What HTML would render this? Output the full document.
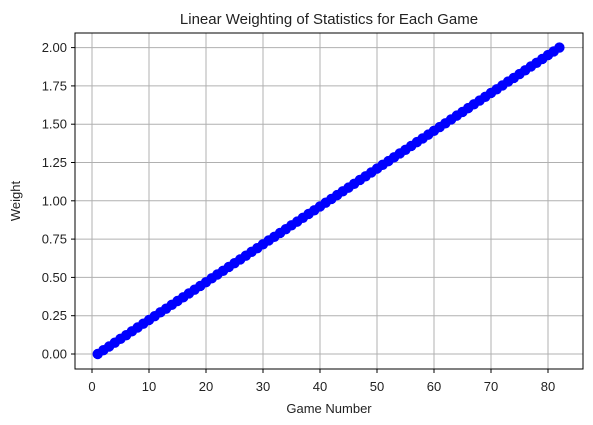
<!DOCTYPE html>
<html><head><meta charset="utf-8"><style>
body{margin:0;background:#fff;}
svg text{font-family:"Liberation Sans","DejaVu Sans",sans-serif;fill:#222;}
</style></head><body>
<svg id="chart" width="593" height="420">
<text x="329" y="24" font-size="15" text-anchor="middle">Linear Weighting of Statistics for Each Game</text>
<g id="grid"></g><g id="ticks"></g><g id="marks"></g>
<rect x="75" y="33" width="508" height="336" fill="none" stroke="#000" stroke-width="1"/>
<text x="329" y="413" font-size="13" text-anchor="middle">Game Number</text>
<text x="20" y="201" font-size="13" text-anchor="middle" transform="rotate(-90 20 201)">Weight</text>
</svg>
<script>
const weights=[0,0.025,0.049,0.074,0.099,0.123,0.148,0.173,0.198,0.222,0.247,0.272,0.296,0.321,0.346,0.370,0.395,0.420,0.444,0.469,0.494,0.519,0.543,0.568,0.593,0.617,0.642,0.667,0.691,0.716,0.741,0.765,0.790,0.815,0.840,0.864,0.889,0.914,0.938,0.963,0.988,1.012,1.037,1.062,1.086,1.111,1.136,1.160,1.185,1.210,1.235,1.259,1.284,1.309,1.333,1.358,1.383,1.407,1.432,1.457,1.481,1.506,1.531,1.556,1.580,1.605,1.630,1.654,1.679,1.704,1.728,1.753,1.778,1.802,1.827,1.852,1.877,1.901,1.926,1.951,1.975,2.0];
const games=weights.map((w,i)=>i+1);
const xTicks=[0,10,20,30,40,50,60,70,80];
const yTicks=["0.00","0.25","0.50","0.75","1.00","1.25","1.50","1.75","2.00"];
const NS="http://www.w3.org/2000/svg";
const X=v=>92+5.7*v, Y=v=>354-153.2*v;
function mk(t,a,p){const e=document.createElementNS(NS,t);for(const k in a)e.setAttribute(k,a[k]);p.appendChild(e);return e;}
const grid=document.getElementById('grid'),ticks=document.getElementById('ticks'),marks=document.getElementById('marks');
xTicks.forEach(v=>{
 const g=mk('line',{x1:X(v),x2:X(v),y1:33,y2:369,stroke:'#b0b0b0','stroke-width':1},grid);
 
 
 mk('line',{x1:X(v),x2:X(v),y1:369,y2:373,stroke:'#000'},ticks);
 const t=mk('text',{x:X(v),y:391,'font-size':13,'text-anchor':'middle'},ticks);t.textContent=v;
 
 
});
yTicks.forEach(s=>{
 const v=parseFloat(s);
 const g=mk('line',{x1:75,x2:583,y1:Y(v),y2:Y(v),stroke:'#b0b0b0','stroke-width':1},grid);
 
 
 mk('line',{x1:71,x2:75,y1:Y(v),y2:Y(v),stroke:'#000'},ticks);
 const t=mk('text',{x:67,y:Y(v)+4.5,'font-size':13,'text-anchor':'end'},ticks);t.textContent=s;
 
 
});
const line=mk('polyline',{points:games.map((g,i)=>X(g)+','+Y(weights[i])).join(' '),fill:'none',stroke:'#0000ff','stroke-width':1.5},marks);


games.forEach((g,i)=>{
 const c=mk('circle',{cx:X(g),cy:Y(weights[i]),r:5.2,fill:'#0000ff'},marks);
 
 
});
</script>
</body></html>
